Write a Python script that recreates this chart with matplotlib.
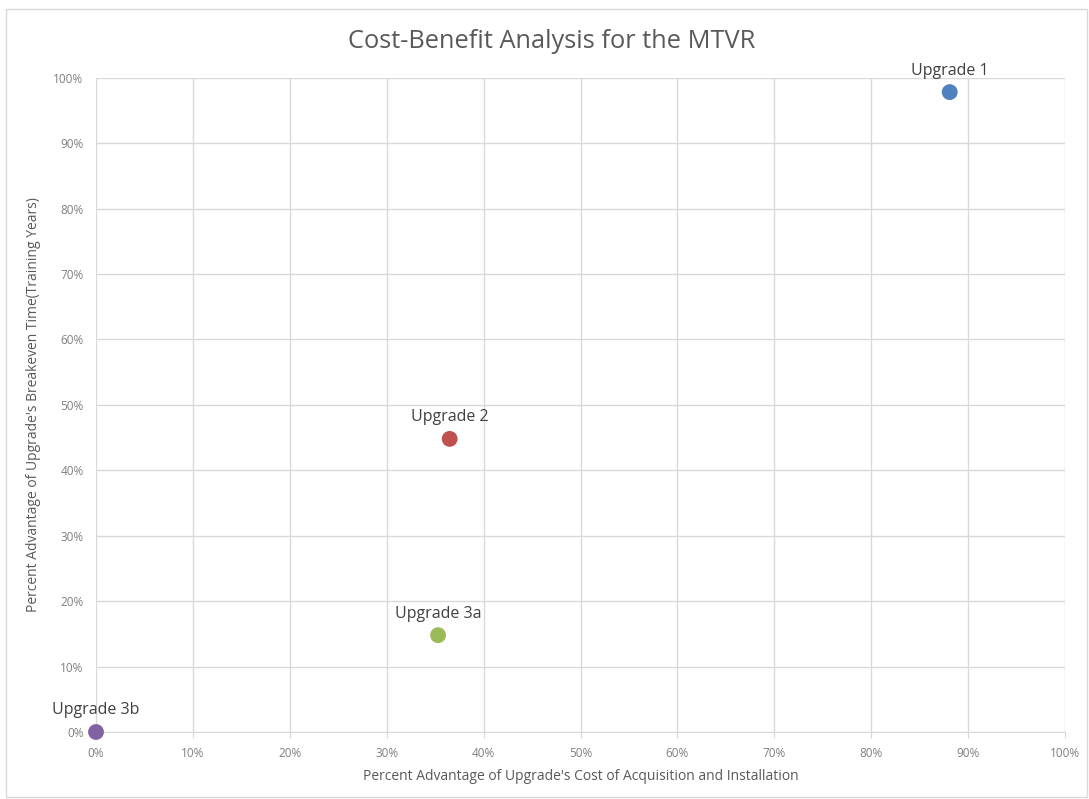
import matplotlib
matplotlib.use("Agg")
import matplotlib.pyplot as plt
from matplotlib.ticker import PercentFormatter, MultipleLocator
from matplotlib.patches import Rectangle

labels = ["Upgrade 1", "Upgrade 2", "Upgrade 3a", "Upgrade 3b"]
cost_adv = [0.881, 0.365, 0.353, 0.0]
time_adv = [0.978, 0.448, 0.148, 0.0]
colors = ["#4F81BD", "#C0504D", "#9BBB59", "#8064A2"]

plt.rcParams['font.family'] = ['Open Sans', 'DejaVu Sans']

fig = plt.figure(figsize=(10.89, 7.99), dpi=100)
fig.patches.append(Rectangle((6/1089, 2/799), 1 - 8/1089, 1 - 11/799,
                             transform=fig.transFigure, fill=False,
                             edgecolor="#D9D9D9", linewidth=1))
ax = fig.add_axes([96/1089, 67/799, 969/1089, 654.3/799])

ax.set_xlim(0, 1)
ax.set_ylim(0, 1)
ax.xaxis.set_major_locator(MultipleLocator(0.1))
ax.yaxis.set_major_locator(MultipleLocator(0.1))
ax.xaxis.set_major_formatter(PercentFormatter(1.0, decimals=0))
ax.yaxis.set_major_formatter(PercentFormatter(1.0, decimals=0))
ax.grid(True, color="#D9D9D9", linewidth=1)
ax.set_axisbelow(True)
for s in ["top", "right", "left"]:
    ax.spines[s].set_visible(False)
ax.spines["bottom"].set_color("#D9D9D9")
ax.tick_params(axis="x", length=4, color="#D9D9D9", labelsize=8.5, labelcolor="#7F7F7F", pad=7)
ax.tick_params(axis="y", length=0, labelsize=8.5, labelcolor="#7F7F7F", pad=9)

for x, y, c, lab in zip(cost_adv, time_adv, colors, labels):
    ax.scatter([x], [y], s=130, color=c, zorder=3, clip_on=False, edgecolors="none")
    ax.annotate(lab, (x, y), xytext=(0, 15.5), textcoords="offset points",
                ha="center", va="center", fontsize=11.5, color="#404040",
                annotation_clip=False)

fig.text(552/1089, 1 - 42/799, "Cost-Benefit Analysis for the MTVR",
         ha="center", va="center", fontsize=18.3, color="#595959")
ax.set_xlabel("Percent Advantage of Upgrade's Cost of Acquisition and Installation",
              fontsize=10, color="#595959", labelpad=6)
ax.set_ylabel("Percent Advantage of Upgrade's Breakeven Time(Training Years)",
              fontsize=10, color="#595959", labelpad=9)

fig.savefig("out.png", dpi=100, facecolor="white")
